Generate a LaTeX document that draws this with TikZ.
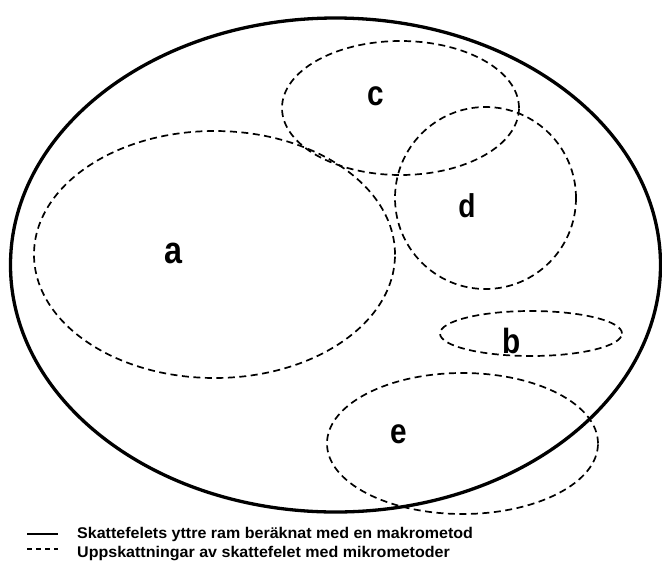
\documentclass[tikz,border=0pt]{standalone}
\usepackage{fontspec}
\setmainfont{Liberation Sans}
\usetikzlibrary{shapes.geometric}
\begin{document}
\begin{tikzpicture}[x=1pt,y=-1pt,
  region/.style={ellipse, draw, inner sep=0pt, line width=1.7pt, dash pattern=on 7pt off 4.5pt},
  outer/.style={ellipse, draw, inner sep=0pt, line width=3.3pt},
  lbl/.style={font=\bfseries\fontsize{35}{35}\selectfont, inner sep=0pt, xscale=0.85},
  legtxt/.style={font=\bfseries\fontsize{15.5}{16}\selectfont, anchor=west, inner sep=0pt, xscale=1.035}]
\useasboundingbox (0,0) rectangle (662,574);
\node[outer, minimum width=650pt, minimum height=494pt] (big) at (335.5,265) {};
\node[region, minimum width=361pt, minimum height=247pt] (ea) at (214.5,254.5) {};
\node[region, minimum width=237pt, minimum height=134pt] (ec) at (400.5,108) {};
\node[region, minimum width=181pt, minimum height=182pt] (ed) at (485.5,198) {};
\node[region, minimum width=182pt, minimum height=45pt] (eb) at (531,333.5) {};
\node[region, minimum width=271pt, minimum height=141pt] (ee) at (462.5,443.5) {};
\node[lbl, font=\bfseries\fontsize{38}{38}\selectfont] (la) at (173.5,253.5) {a};
\node[lbl] (lc) at (376,96) {c};
\node[lbl, font=\bfseries\fontsize{33}{33}\selectfont] (ld) at (467,206) {d};
\node[lbl] (lb) at (512,341) {b};
\node[lbl] (le) at (399,434) {e};
\coordinate (s1) at (27,534);
\coordinate (s2) at (58,534);
\coordinate (d1) at (27,549);
\coordinate (d2) at (58,549);
\draw[line width=1.5pt] (s1) -- (s2);
\draw[line width=1.5pt, dash pattern=on 5pt off 4pt] (d1) -- (d2);
\node[legtxt] (t1) at (77,534) {Skattefelets yttre ram beräknat med en makrometod};
\node[legtxt] (t2) at (77,554) {Uppskattningar av skattefelet med mikrometoder};
\end{tikzpicture}
\end{document}
